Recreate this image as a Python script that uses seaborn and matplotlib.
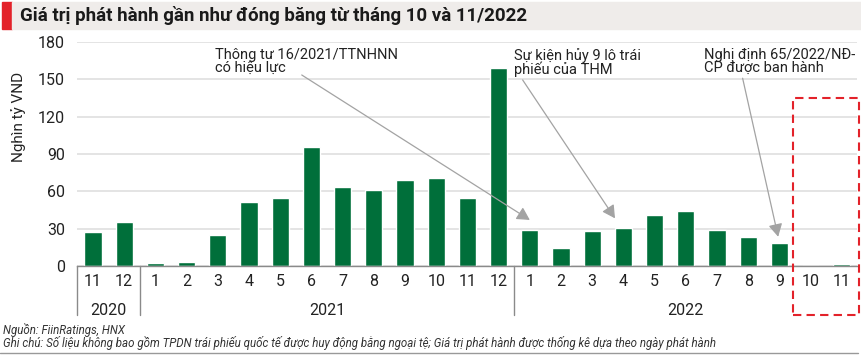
import matplotlib
matplotlib.use("Agg")
import matplotlib.pyplot as plt
from matplotlib.patches import Rectangle
from matplotlib import transforms
import pandas as pd
import seaborn as sns

# data
years = ["2020"] * 2 + ["2021"] * 12 + ["2022"] * 11
months = [11, 12] + list(range(1, 13)) + list(range(1, 12))
values = [27, 35.5,
          2.2, 3.5, 25, 51.7, 54.4, 95.4, 63.8, 61, 68.9, 70.5, 54.4, 159,
          28.9, 14.2, 28.4, 30.3, 41, 44, 28.9, 23, 18.8, 0.3, 2]

GREEN = "#006f3a"
GRID = "#dddddd"
ARROW = "#a3a3a3"
RED = "#e3222a"

df = pd.DataFrame({"key": [f"{y}-{m:02d}" for y, m in zip(years, months)],
                   "month": months, "year": years, "value": values})

sns.set_theme(style="white")
plt.rcParams["font.family"] = ["Liberation Sans Narrow", "Roboto", "DejaVu Sans"]

fig = plt.figure(figsize=(8.62, 3.55), dpi=100)
ax = fig.add_axes([0.0898, 0.2507, 0.9049, 0.6310])

sns.barplot(data=df, x="key", y="value", color=GREEN, saturation=1,
            width=0.55, ax=ax, zorder=3)

ax.set_ylim(0, 180)
ax.set_xlim(-0.5, len(df) - 0.5)
ax.set_yticks(range(0, 181, 30))
ax.yaxis.grid(True, color=GRID, lw=1.1, zorder=0)
ax.set_xlabel("")
ax.set_ylabel("")
for s in ["top", "right", "left"]:
    ax.spines[s].set_visible(False)
ax.spines["bottom"].set_color("#8a8a8a")
ax.spines["bottom"].set_linewidth(1.0)
ax.spines["bottom"].set_zorder(4)
ax.tick_params(axis="y", length=0, pad=9, labelsize=11.5, labelcolor="#222222")
ax.tick_params(axis="x", length=0, pad=6, labelsize=11.5, labelcolor="#222222")
ax.set_xticks(range(len(df)))
ax.set_xticklabels([str(m) for m in months])

# year groups and separators below the axis
trans = transforms.blended_transform_factory(ax.transData, ax.transAxes)
bounds = {}
for i, y in enumerate(years):
    bounds.setdefault(y, [i, i])[1] = i
for y, (a, b) in bounds.items():
    ax.plot([a - 0.5, a - 0.5], [0, -0.219], transform=trans, color="#8a8a8a",
            lw=1.0, clip_on=False)
    ax.text((a + b) / 2, -0.197, y, transform=trans, ha="center", va="center",
            fontsize=11.5, color="#222222")

# annotations
notes = [
    ("Thông tư 16/2021/TTNHNN\ncó hiệu lực", (3.91, 175.5), (6.69, 153.5), (14.0, 37)),
    ("Sự kiện hủy 9 lô trái\nphiếu của THM", (13.49, 175.5), (13.77, 149.5), (16.73, 38.3)),
    ("Nghị định 65/2022/NĐ-\nCP được ban hành", (19.58, 175.5), (20.82, 150.9), (21.96, 23.5)),
]
for text, pos, start, tip in notes:
    ax.text(pos[0], pos[1], text, ha="left", va="top", fontsize=10.5,
            color="#222222", linespacing=0.95, zorder=5)
    ax.annotate("", xy=tip, xytext=start,
                arrowprops=dict(arrowstyle="-|>,head_length=0.55,head_width=0.3",
                                color=ARROW, lw=0.9, mutation_scale=14,
                                shrinkA=0, shrinkB=0), zorder=5)

# dashed highlight for Oct-Nov 2022
ax.add_patch(Rectangle((22.44, -0.219), 2.1, 0.969, transform=trans,
                       fill=False, edgecolor=RED, lw=1.5, ls=(0, (4, 2.5)),
                       clip_on=False, zorder=6))

# y label
fig.text(0.022, 0.67, "Nghìn tỷ VND", rotation=90, ha="center", va="center",
         fontsize=11, color="#222222")

# title band
fig.patches.append(Rectangle((0.0023, 0.918), 0.0116, 0.076, transform=fig.transFigure,
                             color=RED, zorder=0))
fig.patches.append(Rectangle((0.0139, 0.918), 0.985, 0.076, transform=fig.transFigure,
                             color="#efecea", zorder=0))
fig.text(0.0232, 0.956, "Giá trị phát hành gần như đóng băng từ tháng 10 và 11/2022",
         ha="left", va="center", fontsize=13.5, fontweight="bold", color="#1a1a1a",
         family=["Roboto", "DejaVu Sans"])

# footer
fig.text(0.004, 0.071, "Nguồn: FiinRatings, HNX", ha="left", va="center",
         fontsize=8.3, style="italic", color="#333333")
fig.text(0.004, 0.034,
         "Ghi chú: Số liệu không bao gồm TPDN trái phiếu quốc tế được huy động bằng ngoại tệ; "
         "Giá trị phát hành được thống kê dựa theo ngày phát hành",
         ha="left", va="center", fontsize=8.3, style="italic", color="#333333")
fig.add_artist(plt.Line2D([0, 0.995], [0.006, 0.006], color="#999999", lw=1.0))

fig.savefig("out.png", dpi=100)
